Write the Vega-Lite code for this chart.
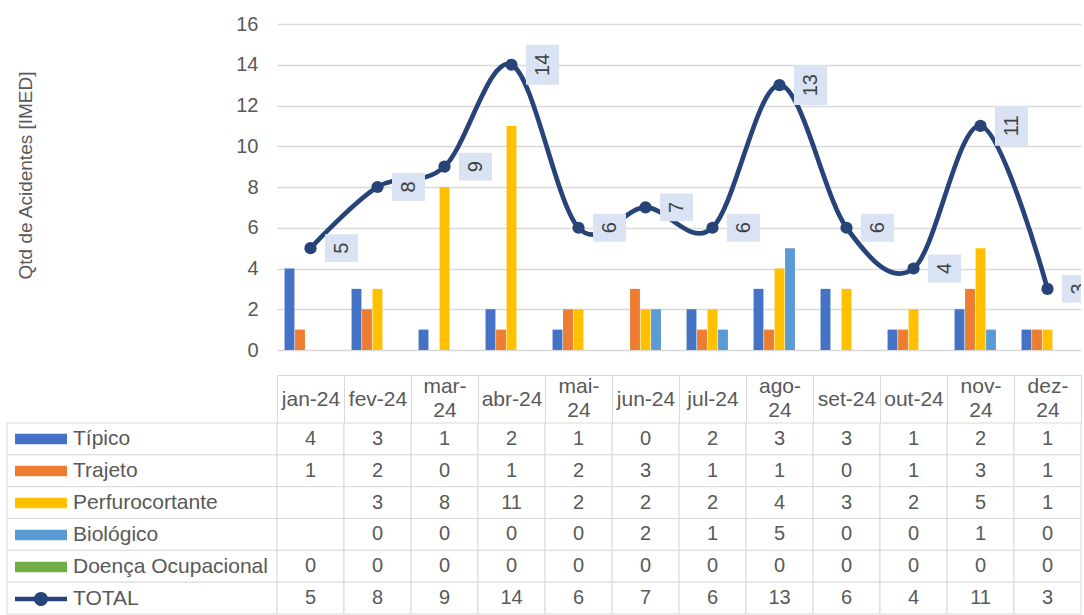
{
  "$schema": "https://vega.github.io/schema/vega-lite/v6.json",
  "padding": {"left": 6, "top": 14, "right": 0, "bottom": 0},
  "background": "white",
  "config": {"font": "Liberation Sans", "view": {"stroke": null}},
  "datasets": {
    "cells": [
      {"m": "jan-24", "s": "Típico", "v": 4}, {"m": "fev-24", "s": "Típico", "v": 3}, {"m": "mar-24", "s": "Típico", "v": 1}, {"m": "abr-24", "s": "Típico", "v": 2}, {"m": "mai-24", "s": "Típico", "v": 1}, {"m": "jun-24", "s": "Típico", "v": 0}, {"m": "jul-24", "s": "Típico", "v": 2}, {"m": "ago-24", "s": "Típico", "v": 3}, {"m": "set-24", "s": "Típico", "v": 3}, {"m": "out-24", "s": "Típico", "v": 1}, {"m": "nov-24", "s": "Típico", "v": 2}, {"m": "dez-24", "s": "Típico", "v": 1},
      {"m": "jan-24", "s": "Trajeto", "v": 1}, {"m": "fev-24", "s": "Trajeto", "v": 2}, {"m": "mar-24", "s": "Trajeto", "v": 0}, {"m": "abr-24", "s": "Trajeto", "v": 1}, {"m": "mai-24", "s": "Trajeto", "v": 2}, {"m": "jun-24", "s": "Trajeto", "v": 3}, {"m": "jul-24", "s": "Trajeto", "v": 1}, {"m": "ago-24", "s": "Trajeto", "v": 1}, {"m": "set-24", "s": "Trajeto", "v": 0}, {"m": "out-24", "s": "Trajeto", "v": 1}, {"m": "nov-24", "s": "Trajeto", "v": 3}, {"m": "dez-24", "s": "Trajeto", "v": 1},
      {"m": "jan-24", "s": "Perfurocortante", "v": null}, {"m": "fev-24", "s": "Perfurocortante", "v": 3}, {"m": "mar-24", "s": "Perfurocortante", "v": 8}, {"m": "abr-24", "s": "Perfurocortante", "v": 11}, {"m": "mai-24", "s": "Perfurocortante", "v": 2}, {"m": "jun-24", "s": "Perfurocortante", "v": 2}, {"m": "jul-24", "s": "Perfurocortante", "v": 2}, {"m": "ago-24", "s": "Perfurocortante", "v": 4}, {"m": "set-24", "s": "Perfurocortante", "v": 3}, {"m": "out-24", "s": "Perfurocortante", "v": 2}, {"m": "nov-24", "s": "Perfurocortante", "v": 5}, {"m": "dez-24", "s": "Perfurocortante", "v": 1},
      {"m": "jan-24", "s": "Biológico", "v": null}, {"m": "fev-24", "s": "Biológico", "v": 0}, {"m": "mar-24", "s": "Biológico", "v": 0}, {"m": "abr-24", "s": "Biológico", "v": 0}, {"m": "mai-24", "s": "Biológico", "v": 0}, {"m": "jun-24", "s": "Biológico", "v": 2}, {"m": "jul-24", "s": "Biológico", "v": 1}, {"m": "ago-24", "s": "Biológico", "v": 5}, {"m": "set-24", "s": "Biológico", "v": 0}, {"m": "out-24", "s": "Biológico", "v": 0}, {"m": "nov-24", "s": "Biológico", "v": 1}, {"m": "dez-24", "s": "Biológico", "v": 0},
      {"m": "jan-24", "s": "Doença Ocupacional", "v": 0}, {"m": "fev-24", "s": "Doença Ocupacional", "v": 0}, {"m": "mar-24", "s": "Doença Ocupacional", "v": 0}, {"m": "abr-24", "s": "Doença Ocupacional", "v": 0}, {"m": "mai-24", "s": "Doença Ocupacional", "v": 0}, {"m": "jun-24", "s": "Doença Ocupacional", "v": 0}, {"m": "jul-24", "s": "Doença Ocupacional", "v": 0}, {"m": "ago-24", "s": "Doença Ocupacional", "v": 0}, {"m": "set-24", "s": "Doença Ocupacional", "v": 0}, {"m": "out-24", "s": "Doença Ocupacional", "v": 0}, {"m": "nov-24", "s": "Doença Ocupacional", "v": 0}, {"m": "dez-24", "s": "Doença Ocupacional", "v": 0},
      {"m": "jan-24", "s": "TOTAL", "v": 5}, {"m": "fev-24", "s": "TOTAL", "v": 8}, {"m": "mar-24", "s": "TOTAL", "v": 9}, {"m": "abr-24", "s": "TOTAL", "v": 14}, {"m": "mai-24", "s": "TOTAL", "v": 6}, {"m": "jun-24", "s": "TOTAL", "v": 7}, {"m": "jul-24", "s": "TOTAL", "v": 6}, {"m": "ago-24", "s": "TOTAL", "v": 13}, {"m": "set-24", "s": "TOTAL", "v": 6}, {"m": "out-24", "s": "TOTAL", "v": 4}, {"m": "nov-24", "s": "TOTAL", "v": 11}, {"m": "dez-24", "s": "TOTAL", "v": 3}
    ]
  },
  "columns": 2,
  "spacing": {"row": 73, "column": 0},
  "bounds": "flush",
  "resolve": {
    "scale": {"x": "independent", "y": "independent", "color": "independent", "shape": "independent"},
    "legend": {"color": "independent", "shape": "independent"}
  },
  "concat": [
    {
      "width": 270, "height": 326,
      "data": {"values": [{}]},
      "mark": {"type": "rect", "opacity": 0}
    },
    {
      "width": 804, "height": 326,
      "data": {"name": "cells"},
      "encoding": {
        "x": {
          "field": "m", "type": "nominal", "sort": null,
          "scale": {"paddingInner": 0, "paddingOuter": 0},
          "axis": {
            "title": null, "orient": "bottom", "offset": 25,
            "domainColor": "#d9d9d9", "domainWidth": 1,
            "tickBand": "extent", "tickSize": 48, "tickColor": "#d9d9d9", "tickWidth": 1,
            "labelAngle": 0, "labelFontSize": 21, "labelColor": "#595959",
            "labelBaseline": "middle", "labelLineHeight": 24,
            "labelPadding": {
              "condition": {"test": "indexof(['mar-24','mai-24','ago-24','nov-24','dez-24'], datum.value) >= 0", "value": -37},
              "value": -24
            },
            "labelOverlap": false, "labelFlush": false,
            "labelExpr": "indexof(['mar-24','mai-24','ago-24','nov-24','dez-24'], datum.label) >= 0 ? [slice(datum.label, 0, 4), slice(datum.label, 4)] : datum.label",
            "grid": false
          }
        },
        "y": {
          "field": "v", "type": "quantitative",
          "scale": {"domain": [0, 16]},
          "axis": {
            "values": [0, 2, 4, 6, 8, 10, 12, 14, 16],
            "domain": false, "ticks": false, "grid": true,
            "gridColor": "#d9d9d9", "gridWidth": 1.3,
            "labelFontSize": 20, "labelColor": "#595959", "labelPadding": 19,
            "title": "Qtd de Acidentes [IMED]", "titleFontSize": 19, "titleFontWeight": "normal",
            "titleColor": "#595959", "titleX": -252, "titleY": 151, "titleAngle": 270,
            "titleAlign": "center", "titleBaseline": "middle"
          }
        }
      },
      "layer": [
        {
          "transform": [{"filter": "datum.s != 'TOTAL' && isValid(datum.v)"}],
          "mark": {"type": "bar"},
          "encoding": {
            "xOffset": {
              "field": "s", "type": "nominal",
              "scale": {"domain": ["Típico", "Trajeto", "Perfurocortante", "Biológico", "Doença Ocupacional"], "paddingInner": 0.06, "paddingOuter": 0.72}
            },
            "color": {
              "field": "s", "type": "nominal",
              "scale": {"domain": ["Típico", "Trajeto", "Perfurocortante", "Biológico", "Doença Ocupacional"], "range": ["#4472C4", "#ED7D31", "#FFC000", "#5B9BD5", "#70AD47"]},
              "legend": null
            }
          }
        },
        {
          "transform": [{"filter": "datum.s == 'TOTAL'"}],
          "mark": {"type": "line", "interpolate": "cardinal", "color": "#264478", "strokeWidth": 4.7, "strokeCap": "round", "strokeJoin": "round"},
          "encoding": {}
        },
        {
          "transform": [{"filter": "datum.s == 'TOTAL'"}],
          "mark": {"type": "point", "filled": true, "color": "#264478", "size": 150, "opacity": 1},
          "encoding": {}
        },
        {
          "transform": [{"filter": "datum.s == 'TOTAL'"}],
          "mark": {"type": "point", "filled": true, "color": "#DAE3F3", "size": 1089, "opacity": 1, "xOffset": 31, "clip": true},
          "encoding": {
            "shape": {
              "condition": {"test": "datum.v >= 10", "value": "M-1,-1.212L1,-1.212L1,1.212L-1,1.212Z"},
              "value": "M-1,-0.848L1,-0.848L1,0.848L-1,0.848Z"
            }
          }
        },
        {
          "transform": [{"filter": "datum.s == 'TOTAL'"}],
          "mark": {"type": "text", "angle": 270, "fontSize": 20, "color": "#404040", "xOffset": 31, "clip": true, "align": "center", "baseline": "middle"},
          "encoding": {"text": {"field": "v", "type": "quantitative"}}
        }
      ]
    },
    {
      "width": 270, "height": 191,
      "data": {"name": "cells"},
      "transform": [{"filter": "datum.m == 'jan-24'"}],
      "encoding": {
        "y": {
          "field": "s", "type": "nominal",
          "scale": {"domain": ["Típico", "Trajeto", "Perfurocortante", "Biológico", "Doença Ocupacional", "TOTAL"], "paddingInner": 0, "paddingOuter": 0},
          "axis": null
        }
      },
      "layer": [
        {
          "mark": {"type": "rect", "fill": "white", "stroke": "#d9d9d9", "strokeWidth": 1}
        },
        {
          "mark": {"type": "point", "filled": true, "opacity": 0},
          "encoding": {
            "color": {
              "field": "s", "type": "nominal",
              "scale": {"domain": ["Típico", "Trajeto", "Perfurocortante", "Biológico", "Doença Ocupacional", "TOTAL"], "range": ["#4472C4", "#ED7D31", "#FFC000", "#5B9BD5", "#70AD47", "#264478"]},
              "legend": {"title": null, "orient": "none", "legendX": 8, "legendY": 0, "direction": "vertical", "symbolSize": 2704, "symbolOpacity": 1, "symbolStrokeWidth": 0, "clipHeight": 32, "rowPadding": 0, "padding": 0, "labelOffset": 6, "labelFontSize": 21, "labelColor": "#595959", "labelLimit": 260}
            },
            "shape": {
              "field": "s", "type": "nominal",
              "scale": {"domain": ["Típico", "Trajeto", "Perfurocortante", "Biológico", "Doença Ocupacional", "TOTAL"], "range": ["M-1,-0.2L1,-0.2L1,0.2L-1,0.2Z", "M-1,-0.2L1,-0.2L1,0.2L-1,0.2Z", "M-1,-0.2L1,-0.2L1,0.2L-1,0.2Z", "M-1,-0.2L1,-0.2L1,0.2L-1,0.2Z", "M-1,-0.2L1,-0.2L1,0.2L-1,0.2Z", "M-1,-0.09L1,-0.09L1,0.09L-1,0.09Z M-0.27,0A0.27,0.27,0,1,1,0.27,0A0.27,0.27,0,1,1,-0.27,0Z"]},
              "legend": {"title": null, "orient": "none", "legendX": 8, "legendY": 0, "direction": "vertical", "symbolSize": 2704, "symbolOpacity": 1, "symbolStrokeWidth": 0, "clipHeight": 32, "rowPadding": 0, "padding": 0, "labelOffset": 6, "labelFontSize": 21, "labelColor": "#595959", "labelLimit": 260}
            }
          }
        }
      ]
    },
    {
      "width": 804, "height": 191,
      "data": {"name": "cells"},
      "encoding": {
        "x": {"field": "m", "type": "nominal", "sort": null, "scale": {"paddingInner": 0, "paddingOuter": 0}, "axis": null},
        "y": {
          "field": "s", "type": "nominal",
          "scale": {"domain": ["Típico", "Trajeto", "Perfurocortante", "Biológico", "Doença Ocupacional", "TOTAL"], "paddingInner": 0, "paddingOuter": 0},
          "axis": null
        }
      },
      "layer": [
        {"mark": {"type": "rect", "fill": "white", "stroke": "#d9d9d9", "strokeWidth": 1}},
        {
          "transform": [{"filter": {"field": "v", "valid": true}}],
          "mark": {"type": "text", "fontSize": 20, "color": "#595959", "align": "center", "baseline": "middle"},
          "encoding": {"text": {"field": "v", "type": "quantitative"}}
        }
      ]
    }
  ]
}
